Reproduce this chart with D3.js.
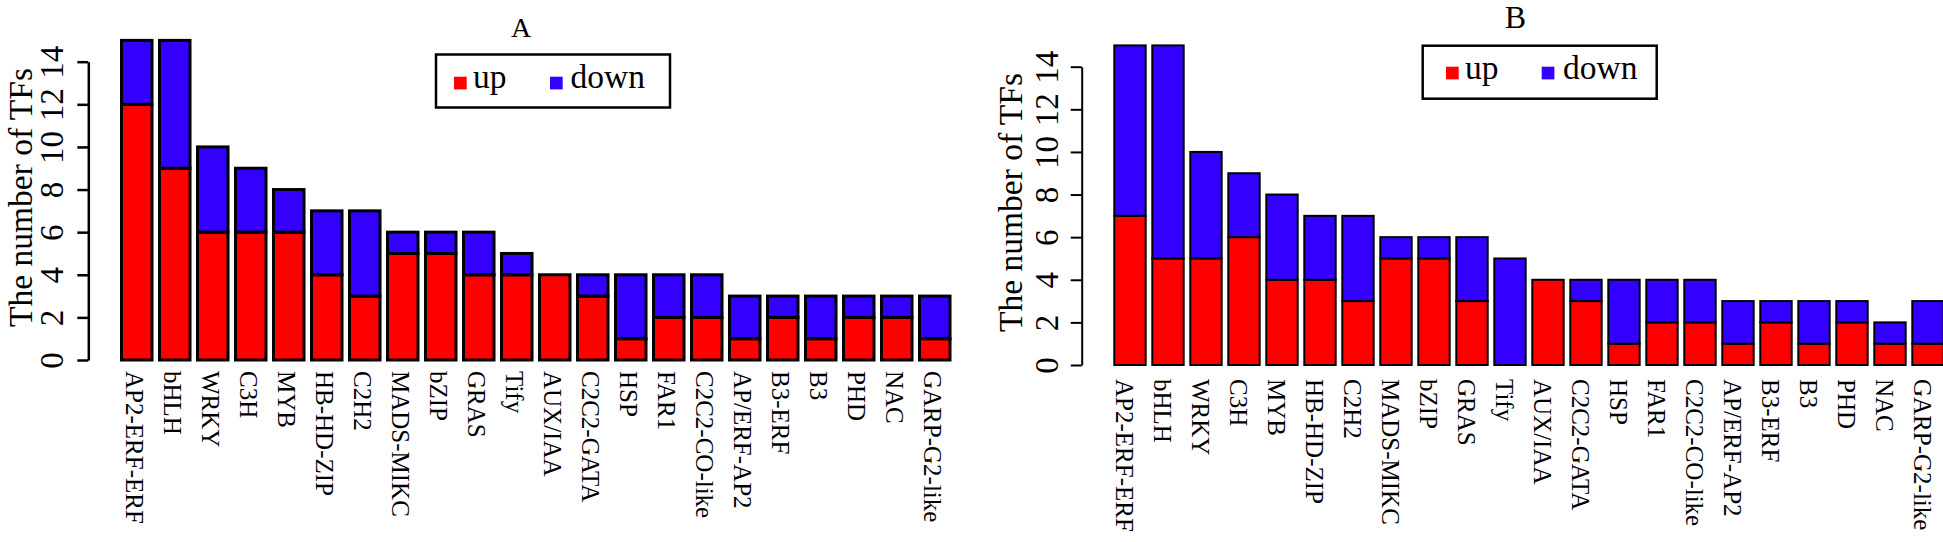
<!DOCTYPE html>
<html>
<head>
<meta charset="utf-8">
<script src="https://cdn.jsdelivr.net/npm/d3@7"></script>
<style>
  html, body { margin: 0; padding: 0; background: #fff; }
  svg { display: block; }
  svg text { font-family: "Liberation Serif", "Times New Roman", Times, serif !important; fill: #000; }
</style>
</head>
<body>
<svg id="chart" width="1943" height="542" font-family="Liberation Serif, serif"></svg>
<script>
// ---- data ----
const categories = ["AP2-ERF-ERF","bHLH","WRKY","C3H","MYB","HB-HD-ZIP","C2H2","MADS-MIKC","bZIP","GRAS","Tify","AUX/IAA","C2C2-GATA","HSP","FAR1","C2C2-CO-like","AP/ERF-AP2","B3-ERF","B3","PHD","NAC","GARP-G2-like"];
const upA   = [12, 9, 6, 6, 6, 4, 3, 5, 5, 4, 4, 4, 3, 1, 2, 2, 1, 2, 1, 2, 2, 1];
const downA = [ 3, 6, 4, 3, 2, 3, 4, 1, 1, 2, 1, 0, 1, 3, 2, 2, 2, 1, 2, 1, 1, 2];
const upB   = [ 7, 5, 5, 6, 4, 4, 3, 5, 5, 3, 0, 4, 3, 1, 2, 2, 1, 2, 1, 2, 1, 1];
const downB = [ 8,10, 5, 3, 4, 3, 4, 1, 1, 3, 5, 0, 1, 3, 2, 2, 2, 1, 2, 1, 1, 2];
const yTicks = [0, 2, 4, 6, 8, 10, 12, 14];
const seriesNames = ["up", "down"];
const seriesColors = ["#ff0000", "#3300ff"];
const panelTitles = ["A", "B"];
const yAxisTitle = "The number of TFs";

const FONT = '"Liberation Serif", "Times New Roman", Times, serif';
const svg = d3.select("#chart");

function drawPanel(cfg) {
  const g = svg.append("g");
  const y = d3.scaleLinear().domain([0, 14]).range([cfg.y0, cfg.y14]);
  const x = d3.scaleBand().domain(categories)
    .range([cfg.xStart, cfg.xStart + cfg.step * (categories.length - cfg.pad)])
    .paddingInner(cfg.pad).paddingOuter(0);

  // bars
  const rows = categories.map((c, i) => ({ c, up: cfg.up[i], down: cfg.down[i] }));
  const bg = g.append("g");
  rows.forEach(d => {
    if (d.up > 0) {
      bg.append("rect")
        .attr("x", x(d.c)).attr("width", x.bandwidth())
        .attr("y", y(d.up)).attr("height", y(0) - y(d.up))
        .attr("fill", seriesColors[0]).attr("stroke", "#000").attr("stroke-width", cfg.sw);
    }
    if (d.down > 0) {
      bg.append("rect")
        .attr("x", x(d.c)).attr("width", x.bandwidth())
        .attr("y", y(d.up + d.down)).attr("height", y(d.up) - y(d.up + d.down))
        .attr("fill", seriesColors[1]).attr("stroke", "#000").attr("stroke-width", cfg.sw);
    }
  });

  // y axis
  const ax = g.append("g").attr("transform", `translate(${cfg.axisX},0)`)
    .call(d3.axisLeft(y).tickValues(yTicks).tickSize(11).tickSizeOuter(0));
  ax.attr("font-family", FONT);
  ax.select(".domain").attr("stroke", "#000").attr("stroke-width", cfg.axisW);
  ax.selectAll(".tick line").attr("stroke", "#000").attr("stroke-width", cfg.axisW);
  ax.selectAll(".tick text")
    .attr("x", null).attr("dy", null)
    .attr("text-anchor", "middle")
    .attr("font-size", 33)
    .style("font-family", FONT)
    .attr("transform", `translate(${-cfg.tickLabOff},0) rotate(-90)`);

  // y axis title
  g.append("text")
    .attr("transform", `translate(${cfg.ylabX},${cfg.ylabY}) rotate(-90)`)
    .attr("text-anchor", "middle").attr("font-size", 33.5)
    .style("font-family", FONT)
    .text(yAxisTitle);

  // x labels
  g.append("g").selectAll("text").data(categories).join("text")
    .attr("transform", d => `translate(${x(d) + x.bandwidth() / 2 - cfg.labOff},${cfg.labY}) rotate(90)`)
    .attr("text-anchor", "start").attr("font-size", 25)
    .style("font-family", FONT)
    .text(d => d);

  // title
  g.append("text").attr("x", cfg.titleX).attr("y", cfg.titleY)
    .attr("text-anchor", "middle").attr("font-size", cfg.titleSize)
    .style("font-family", FONT)
    .text(cfg.title);

  // legend
  const L = cfg.legend;
  g.append("rect").attr("x", L.x).attr("y", L.y).attr("width", L.w).attr("height", L.h)
    .attr("fill", "#fff").attr("stroke", "#000").attr("stroke-width", 2.5);
  seriesNames.forEach((s, i) => {
    g.append("rect").attr("x", L.sq[i]).attr("y", L.sqY).attr("width", 12.7).attr("height", 12.7)
      .attr("fill", seriesColors[i]);
    g.append("text").attr("x", L.tx[i]).attr("y", L.base).attr("font-size", 33.5)
      .style("font-family", FONT).text(s);
  });
}

drawPanel({
  up: upA, down: downA, title: panelTitles[0],
  y0: 360, y14: 61.7, xStart: 121.5, step: 38, pad: 0.197, sw: 3,
  axisX: 88.3, axisW: 2.5, tickLabOff: 25, ylabX: 32, ylabY: 197.5,
  labOff: 10.8, labY: 371, titleX: 521, titleY: 36.7, titleSize: 28,
  legend: { x: 436, y: 54.5, w: 234, h: 53, sq: [454, 550], sqY: 76.7, tx: [473, 570.5], base: 87.5 }
});

drawPanel({
  up: upB, down: downB, title: panelTitles[1],
  y0: 365, y14: 66.7, xStart: 1114.3, step: 38, pad: 0.174, sw: 2,
  axisX: 1081.7, axisW: 2, tickLabOff: 23.4, ylabX: 1021.7, ylabY: 202.5,
  labOff: 14, labY: 379, titleX: 1515.5, titleY: 28.3, titleSize: 32,
  legend: { x: 1422.7, y: 45.7, w: 234, h: 53, sq: [1446, 1541.7], sqY: 66.7, tx: [1465, 1563], base: 79 }
});
</script>
</body>
</html>
